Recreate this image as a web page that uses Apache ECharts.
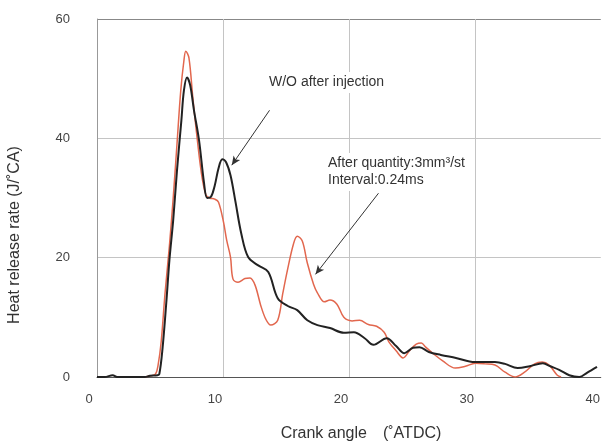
<!DOCTYPE html>
<html>
<head>
<meta charset="utf-8">
<script src="https://cdn.jsdelivr.net/npm/echarts@6/dist/echarts.min.js"></script>
<style>
html, body { margin: 0; padding: 0; background: #fff; }
#initTable { width: 603px; height: 445px; }
</style>
</head>
<body>
<div id="initTable"></div>
<script>
// data ---------------------------------------
var woAngle = [0, 0.6, 1.25, 1.6, 2.0, 3.8, 4.2, 4.8, 4.95, 5.2, 5.5, 5.75, 6.05, 6.35, 6.7, 6.9, 7.15, 7.4, 7.7, 8.1, 8.5, 8.75, 9.05, 9.35, 9.65, 9.95, 10.25, 10.6, 11.0, 11.45, 12.0, 12.8, 13.6, 14.35, 15.15, 15.9, 16.7, 17.5, 18.5, 19.6, 20.4, 21.25, 21.95, 23.0, 23.75, 24.4, 25.1, 25.6, 26.35, 27.3, 28.5, 30.0, 31.6, 32.4, 33.4, 34.35, 35.4, 36.0, 36.7, 37.5, 38.3, 38.9, 39.7];
var woRate  = [0, 0, 0.3, 0, 0, 0, 0.2, 0.3, 0.5, 4.7, 12.4, 19.6, 26.3, 34.6, 43.0, 48.0, 50.2, 48.9, 44.7, 39.7, 32.5, 30.0, 30.2, 32.1, 35.0, 36.5, 36.0, 33.8, 29.3, 24.1, 20.1, 18.7, 17.6, 13.2, 11.9, 11.2, 9.5, 8.7, 8.2, 7.4, 7.5, 6.5, 5.4, 6.5, 5.2, 4.0, 4.9, 5.0, 4.2, 3.7, 3.2, 2.5, 2.5, 2.2, 1.5, 1.8, 2.3, 1.8, 1.2, 0.3, 0, 0.7, 1.7];

var afterAngle = [3.8, 4.3, 4.65, 4.85, 5.1, 5.4, 5.75, 6.05, 6.35, 6.65, 6.9, 7.05, 7.3, 7.6, 7.9, 8.3, 8.65, 8.95, 9.35, 9.65, 10.05, 10.3, 10.6, 10.8, 11.2, 11.75, 12.15, 12.55, 13.0, 13.4, 13.8, 14.35, 14.75, 15.15, 15.6, 15.9, 16.3, 16.7, 17.2, 17.5, 18.05, 18.5, 19.05, 19.6, 20.25, 20.85, 21.55, 22.2, 22.8, 23.2, 23.75, 24.3, 24.85, 25.35, 25.75, 26.1, 26.65, 27.45, 28.45, 29.25, 30.05, 30.8, 31.6, 32.4, 33.2, 33.95, 34.75, 35.35, 35.9, 36.55, 36.85];
var afterRate  = [0, 0.2, 0.5, 2, 6, 14, 22, 30, 39, 48, 53, 54.6, 53.5, 47, 41, 34, 30.5, 30.0, 29.8, 29.3, 25.9, 22.9, 20.1, 16.4, 15.9, 16.5, 16.6, 15.4, 12.0, 9.7, 8.7, 9.5, 14, 18.2, 22.3, 23.6, 22.8, 19.1, 15.5, 14.1, 12.6, 12.9, 12.2, 10.0, 9.4, 9.5, 8.8, 8.5, 7.5, 5.8, 4.4, 3.2, 4.5, 5.5, 5.7, 5.0, 4.0, 2.7, 1.5, 1.8, 2.3, 2.2, 2.0, 0.8, 0, 0.8, 2.2, 2.5, 2.0, 0.3, 0];

var xTicks = [0, 10, 20, 30, 40];
var yTicks = [0, 20, 40, 60];

// arrows: [from, to] in data units
var arrowWo = [[13.7, 44.7], [10.7, 35.5]];
var arrowAfter = [[22.35, 30.8], [17.35, 17.2]];

function pairs(xs, ys) {
	var out = [];
	for (var i = 0; i < xs.length; i++) out.push([xs[i], ys[i]]);
	return out;
}

var font = "'Liberation Sans', Arial, sans-serif";
var myChart = echarts.init(document.getElementById('initTable'));

option = {
	backgroundColor: '#fff',
	animation: false,
	textStyle: { fontFamily: font },
	grid: { left: 97, top: 19, right: 0, bottom: 68 },
	xAxis: {
		type: 'value',
		min: xTicks[0],
		max: xTicks[xTicks.length - 1],
		interval: 10,
		axisLine: { lineStyle: { color: '#555', width: 1 } },
		axisTick: { show: false },
		axisLabel: { color: '#444', fontSize: 13, margin: 16, padding: [0, 16, 0, 0], fontFamily: font },
		// the line at 40 falls off the right edge in the original
		splitLine: { show: true, lineStyle: { color: ['#999', '#c4c4c4', '#c4c4c4', '#c4c4c4', 'rgba(0,0,0,0)'], width: 1 } }
	},
	yAxis: {
		type: 'value',
		min: yTicks[0],
		max: yTicks[yTicks.length - 1],
		interval: 20,
		axisLine: { show: true, lineStyle: { color: '#999', width: 1 } },
		axisTick: { show: false },
		axisLabel: { color: '#444', fontSize: 13, margin: 27, padding: [0, 0, 10, 0], fontFamily: font },
		splitLine: { show: true, lineStyle: { color: ['#555', '#c4c4c4', '#c4c4c4', '#888'], width: 1 } }
	},
	graphic: [
		{ type: 'text', left: 268, top: 72, z: 5,
		  style: { text: 'W/O after injection', font: '14px ' + font, lineHeight: 17, fill: '#333', backgroundColor: '#fff', padding: [2, 1] } },
		{ type: 'text', left: 327, top: 153, z: 5,
		  style: { text: 'After quantity:3mm\u00b3/st\nInterval:0.24ms', font: '14px ' + font, lineHeight: 17, fill: '#333', backgroundColor: '#fff', padding: [2, 1] } },
		{ type: 'text', x: 15, y: 235, rotation: Math.PI / 2, z: 5,
		  style: { text: 'Heat release rate (J/\u02daCA)', font: '16px ' + font, fill: '#333', align: 'center', verticalAlign: 'middle' } },
		{ type: 'text', x: 361, y: 434, z: 5,
		  style: { text: 'Crank angle\u3000(\u02daATDC)', font: '16px ' + font, fill: '#333', align: 'center', verticalAlign: 'middle' } }
	],
	series: [
		{
			name: 'W/O after injection',
			type: 'line',
			data: pairs(woAngle, woRate),
			smooth: 0.35,
			showSymbol: false,
			z: 3,
			lineStyle: { color: '#222', width: 2 },
			markLine: {
				silent: true,
				symbol: ['none', 'arrow'],
				symbolSize: [6, 9],
				label: { show: false },
				lineStyle: { color: '#333', width: 1, type: 'solid' },
				data: [[{ coord: arrowWo[0] }, { coord: arrowWo[1] }]]
			}
		},
		{
			name: 'After injection',
			type: 'line',
			data: pairs(afterAngle, afterRate),
			smooth: 0.35,
			showSymbol: false,
			z: 2,
			lineStyle: { color: '#e2674e', width: 1.5 },
			markLine: {
				silent: true,
				symbol: ['none', 'arrow'],
				symbolSize: [6, 9],
				label: { show: false },
				lineStyle: { color: '#333', width: 1, type: 'solid' },
				data: [[{ coord: arrowAfter[0] }, { coord: arrowAfter[1] }]]
			}
		}
	]
};
myChart.setOption(option);
</script>
</body>
</html>
